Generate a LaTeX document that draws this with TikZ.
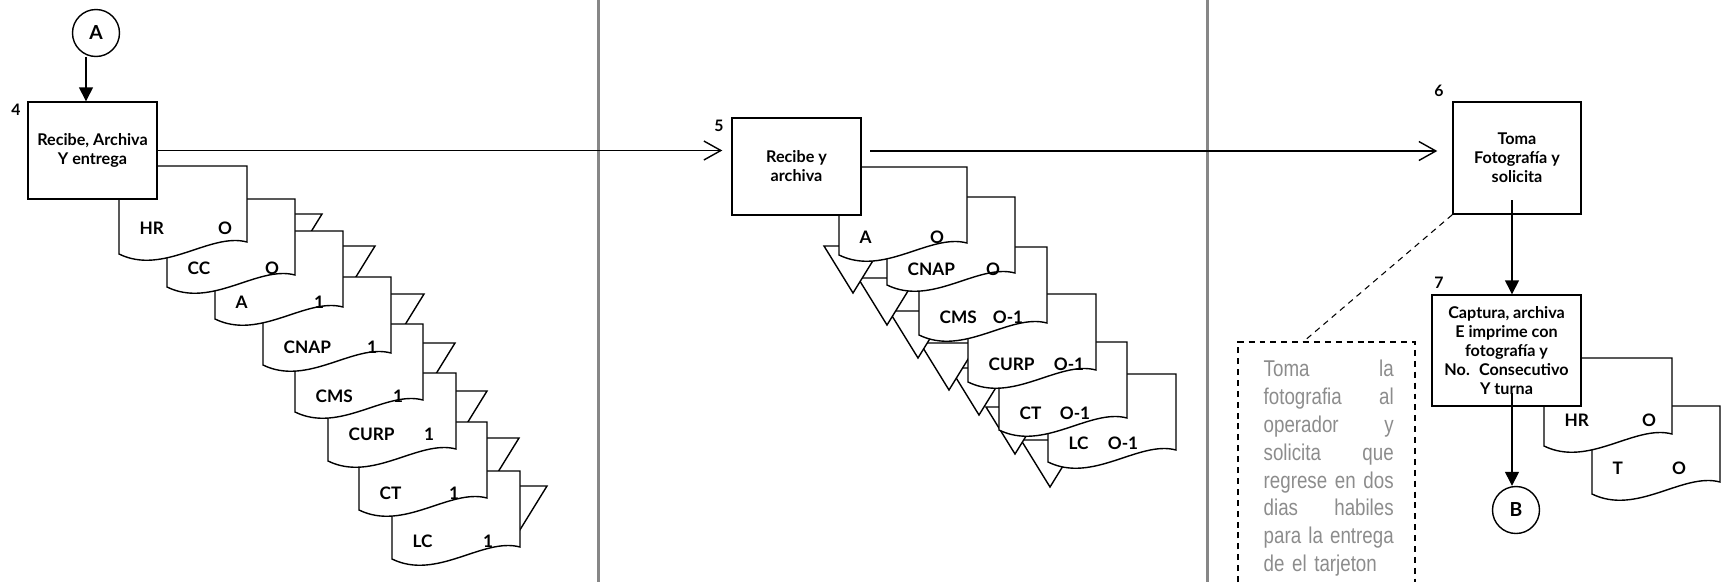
\documentclass[tikz,border=0pt]{standalone}
\usepackage{fontspec}
\setmainfont{Lato}
\newfontfamily\notefont[FakeStretch=0.82]{Liberation Sans}
\usetikzlibrary{arrows.meta,calc}
\tikzset{
  flow/.style={x=0.2mm, y=-0.2mm, line width=0.8pt},
  procbox/.style={draw, fill=white, align=center, inner sep=1pt,
    font=\bfseries\fontsize{9.2}{10.8}\selectfont},
  sheet/.style={draw, fill=white},
  sheettext/.style={font=\bfseries\fontsize{9.8}{11}\selectfont, inner sep=0pt},
  stepno/.style={font=\bfseries\fontsize{9}{10}\selectfont, inner sep=0pt},
  offpage/.style={circle, draw, fill=white, minimum size=9.4mm, inner sep=0pt,
    font=\bfseries\fontsize{11}{12}\selectfont},
  openarrow/.style={-{Straight Barb[length=3.4mm, width=3.8mm]}},
  fillarrow/.style={-{Triangle[length=2.8mm, width=2.8mm]}},
  lane/.style={draw=black!47, line width=1.7pt},
  notebox/.style={line width=0.6pt, dash pattern=on 3.4pt off 2.8pt},
}
% document sheet: name, top left, title, copy, copy x, text y
\newcommand{\docsheet}[6]{%
  \begin{scope}[shift={#2}]
    \draw[sheet] (0,0) -- (128,0) -- (128,76)
      .. controls (91,66) and (45,110) .. (0,88) -- cycle;
    \node[sheettext, anchor=west] (#1-name) at (20,#6) {#3};
    \node[sheettext] (#1-copy) at (#5,#6) {#4};
  \end{scope}}

\begin{document}
\begin{tikzpicture}[flow]
  \useasboundingbox (0,0) rectangle (1728,582);
  % lanes
  \draw[lane] (598,0) -- (598,582);
  \draw[lane] (1207,0) -- (1207,582);
  % step 4: file marks, sheets, box
  \foreach \tx/\ty in {489/486,461/438,429/391,397/343,366/294,317/246,264/214}
    \draw[sheet] (\tx,\ty) -- ++(58,0) -- ++(-29,47) -- cycle;
  \docsheet{lLC}{(392,471)}{LC}{1}{96}{70}
  \docsheet{lCT}{(359,422)}{CT}{1}{95}{71}
  \docsheet{lCURP}{(328,373)}{CURP}{1}{101}{61}
  \docsheet{lCMS}{(295,324)}{CMS}{1}{103}{72}
  \docsheet{lCNAP}{(263,277)}{CNAP}{1}{109}{70}
  \docsheet{lA}{(215,231)}{A}{1}{104}{71}
  \docsheet{lCC}{(167,199)}{CC}{O}{105}{69}
  \docsheet{lHR}{(119,166)}{HR}{O}{106}{62}
  \node[offpage] (A) at (96,33) {A};
  \node[procbox, minimum width=25.8mm, minimum height=19.4mm] (box4)
    at (92.5,150.5) {Recibe, Archiva\\Y entrega};
  \node[stepno] (num4) at (16,110) {4};
  % step 5
  \foreach \tx/\ty in {1021/440,986/407,950/368,920/343,889/311,858/278,824/246}
    \draw[sheet] (\tx,\ty) -- ++(58,0) -- ++(-29,47) -- cycle;
  \docsheet{mLC}{(1048,374)}{LC}{O-1}{75}{69}
  \docsheet{mCT}{(999,342)}{CT}{O-1}{76}{71}
  \docsheet{mCURP}{(968,294)}{CURP}{O-1}{101}{70}
  \docsheet{mCMS}{(919,247)}{CMS}{O-1}{89}{70}
  \docsheet{mCNAP}{(887,197)}{CNAP}{O}{106}{72}
  \docsheet{mA}{(839,167)}{A}{O}{98}{70}
  \node[procbox, minimum width=25.8mm, minimum height=19.4mm] (box5)
    at (796.5,166.5) {Recibe y\\archiva};
  \node[stepno] (num5) at (719,126) {5};
  % steps 6 and 7
  \node[procbox, minimum width=25.6mm, minimum height=22.4mm] (box6)
    at (1517,158) {Toma\\Fotografía y\\solicita};
  \node[stepno] (num6) at (1439,91) {6};
  \docsheet{rT}{(1592,406)}{T}{O}{87}{62}
  \docsheet{rHR}{(1544,358)}{HR}{O}{105}{62}
  \node[procbox, minimum width=29.8mm, minimum height=22.2mm] (box7)
    at (1506.5,350.5) {Captura, archiva\\E imprime con\\fotografía y\\No.~ Consecutivo\\Y turna};
  \node[stepno] (num7) at (1439,283) {7};
  \node[offpage] (B) at (1516,510) {B};
  % note
  \draw[notebox] (1238,582) -- (1238,342) -- (1415,342) -- (1415,582);
  \coordinate (notetop) at (1303,342);
  \node[anchor=north west, inner sep=0pt, text width=26mm, align=left,
    text=black!45, font=\notefont\fontsize{13}{15.9}\selectfont] (note) at (1263,359)
    {Toma\hfill la\\fotografia\hfill al\\operador\hfill y\\solicita\hfill que\\
     regrese\hfill en\hfill dos\\dias\hfill habiles\\para\hfill la\hfill entrega\\de el tarjeton};
  % connectors
  \draw[fillarrow] ([xshift=-2mm]A.south) -- ([xshift=-2mm]A.south |- box4.north);
  \draw[openarrow, shorten >=1.8mm] (box4.east) -- (box4.east -| box5.west);
  \coordinate (out5) at (870,151);
  \draw[openarrow, shorten >=3mm] (out5) -- (out5 -| box6.west);
  \coordinate (d6) at (1512,200);
  \draw[fillarrow] (d6) -- (d6 |- box7.north);
  \coordinate (d7) at (1512,393);
  \draw[fillarrow] (d7) -- (d7 |- B.north);
  \draw[notebox] (box6.south west) -- (notetop);
\end{tikzpicture}
\end{document}
